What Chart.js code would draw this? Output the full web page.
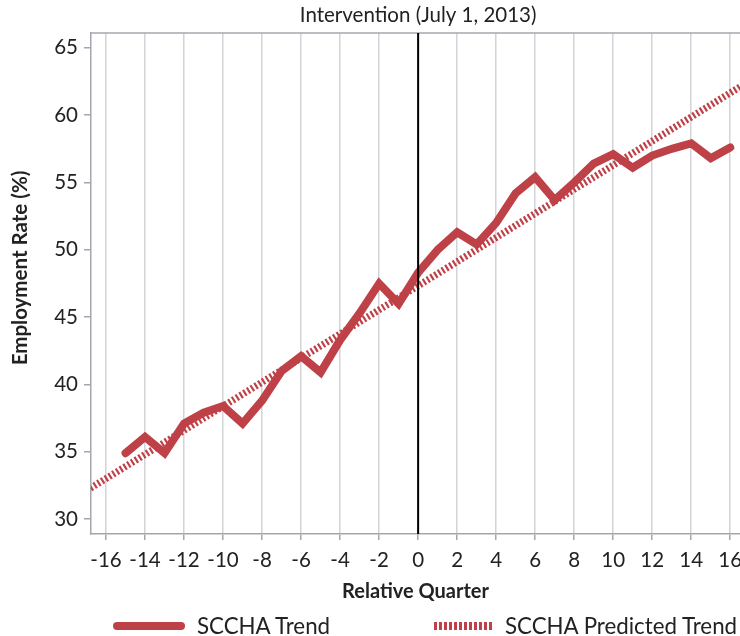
<!DOCTYPE html>
<html>
<head>
<meta charset="utf-8">
<script src="https://cdn.jsdelivr.net/npm/chart.js@4/dist/chart.umd.min.js"></script>
<style>
  html, body { margin: 0; padding: 0; background: #fff; }
  #wrap { position: relative; width: 740px; height: 636px; }
  #legend { position: absolute; left: 0; top: 613px; width: 740px; height: 26px;
    font-family: Lato, sans-serif; font-size: 22.3px; color: #222; }
  .item { position: absolute; top: 0; height: 26px; line-height: 26px; white-space: nowrap; }
  .swatch { position: absolute; top: 9px; height: 8px; }
</style>
</head>
<body>
<div id="wrap">
  <canvas id="rateChart" width="740" height="636"></canvas>
  <div id="legend">
    <div class="swatch" style="left:113px;width:72px;border-radius:4px;background:#bf4148"></div>
    <div class="item" style="left:197px">SCCHA Trend</div>
    <div class="swatch" style="left:434px;width:60px;background:repeating-linear-gradient(90deg,#bf4148 0 2.5px,transparent 2.5px 5px)"></div>
    <div class="item" style="left:505px">SCCHA Predicted Trend</div>
  </div>
</div>
<script>
// observed trend, one point per relative quarter
const quarters = [-15, -14, -13, -12, -11, -10, -9, -8, -7, -6, -5, -4, -3, -2, -1, 0,
  1, 2, 3, 4, 5, 6, 7, 8, 9, 10, 11, 12, 13, 14, 15, 16];
const trendValues = [34.9, 36.1, 34.9, 37.1, 37.9, 38.4, 37.1, 38.8, 41.0, 42.1, 40.9, 43.3, 45.3, 47.5, 46.0, 48.3,
  50.0, 51.3, 50.4, 52.0, 54.2, 55.4, 53.7, 55.0, 56.4, 57.1, 56.1, 57.0, 57.5, 57.9, 56.8, 57.6];

// predicted trend endpoints
const predictedQuarters = [-16.8, 16.5];
const predictedValues = [32.3, 62.1];

const xTicks = [-16, -14, -12, -10, -8, -6, -4, -2, 0, 2, 4, 6, 8, 10, 12, 14, 16];
const yTicks = [30, 35, 40, 45, 50, 55, 60, 65];

const red = '#bf4148';
const axisGray = '#a3a7ad';
const gridGray = '#d3d4d8';
const textColor = '#222';
const font = 'Lato, sans-serif';

const toPoints = (xs, ys) => xs.map((x, i) => ({ x: x, y: ys[i] }));

// intervention marker, top frame line and the y title
const interventionLine = {
  id: 'interventionLine',
  afterDatasetsDraw(chart) {
    const { ctx, chartArea, scales } = chart;
    const x = scales.x.getPixelForValue(0);
    ctx.save();
    ctx.strokeStyle = axisGray;
    ctx.lineWidth = 1.5;
    ctx.beginPath();
    ctx.moveTo(chartArea.left, chartArea.top);
    ctx.lineTo(chartArea.right, chartArea.top);
    ctx.stroke();
    ctx.strokeStyle = '#000';
    ctx.lineWidth = 2;
    ctx.beginPath();
    ctx.moveTo(x, chartArea.top);
    ctx.lineTo(x, chartArea.bottom);
    ctx.stroke();
    ctx.fillStyle = textColor;
    ctx.font = '20.5px ' + font;
    ctx.textAlign = 'center';
    ctx.textBaseline = 'middle';
    ctx.fillText('Intervention (July 1, 2013)', x, 15);
    ctx.translate(20, 268);
    ctx.rotate(-Math.PI / 2);
    ctx.font = 'bold 20.5px ' + font;
    ctx.fillText('Employment Rate (%)', 0, 0);
    ctx.restore();
  }
};

const ctx = document.getElementById('rateChart').getContext('2d');
new Chart(ctx, {
  type: 'line',
  data: {
    datasets: [
      {
        label: 'SCCHA Predicted Trend',
        data: toPoints(predictedQuarters, predictedValues),
        borderColor: red,
        borderWidth: 7,
        borderDash: [2.2, 2.2],
        borderCapStyle: 'butt',
        pointRadius: 0,
        fill: false
      },
      {
        label: 'SCCHA Trend',
        data: toPoints(quarters, trendValues),
        borderColor: red,
        borderWidth: 8,
        borderCapStyle: 'round',
        borderJoinStyle: 'miter',
        pointRadius: 0,
        fill: false
      }
    ]
  },
  options: {
    responsive: false,
    animation: false,
    layout: { padding: { top: 33, left: 0, right: 0, bottom: 30 } },
    plugins: {
      legend: { display: false },
      tooltip: { enabled: false }
    },
    scales: {
      x: {
        type: 'linear',
        min: -16.77,
        max: 16.5,
        afterBuildTicks: scale => { scale.ticks = xTicks.map(v => ({ value: v })); },
        afterFit: scale => { scale.height = 72; scale.paddingRight = 0; },
        border: { color: axisGray, width: 1.5 },
        grid: { color: gridGray, lineWidth: 1.5, tickLength: 6, tickColor: axisGray },
        ticks: { color: textColor, font: { family: font, size: 20.5 }, padding: 8, maxRotation: 0 },
        title: {
          display: true,
          text: 'Relative Quarter',
          color: textColor,
          font: { family: font, size: 20, weight: 'bold' },
          padding: { top: 0, bottom: 2 }
        }
      },
      y: {
        min: 28.9,
        max: 66.1,
        afterBuildTicks: scale => { scale.ticks = yTicks.map(v => ({ value: v })); },
        afterFit: scale => { scale.width = 91; },
        border: { color: axisGray, width: 1.5 },
        grid: { drawOnChartArea: false, tickLength: 7, tickColor: axisGray, lineWidth: 1.5 },
        ticks: { color: textColor, font: { family: font, size: 20.5 }, padding: 6 }
      }
    }
  },
  plugins: [interventionLine]
});
</script>
</body>
</html>
